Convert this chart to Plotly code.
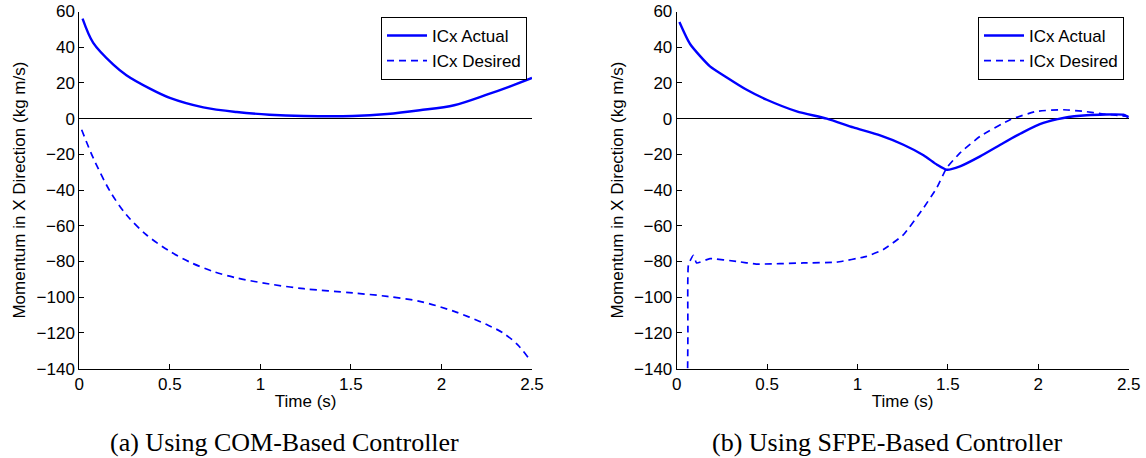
import plotly.graph_objects as go

# ---- Data ----
# (a) COM-Based Controller
t_a_actual = [0.018, 0.077, 0.188, 0.26, 0.39, 0.5, 0.685, 0.87, 1.05, 1.24, 1.51, 1.70, 1.88, 2.07, 2.25, 2.38, 2.5]
v_a_actual = [56.0, 42.4, 30.2, 24.3, 16.8, 11.6, 6.3, 3.7, 2.2, 1.5, 1.5, 2.6, 4.7, 7.5, 13.4, 18.1, 22.8]

t_a_desired = [0.013, 0.077, 0.17, 0.26, 0.37, 0.5, 0.61, 0.74, 0.87, 1.05, 1.24, 1.51, 1.70, 1.88, 2.07, 2.25, 2.34, 2.42, 2.48]
v_a_desired = [-6.2, -22.0, -40.7, -53.8, -65.0, -74.3, -80.3, -85.6, -89.2, -92.6, -95.2, -97.6, -99.5, -102.3, -107.9, -115.3, -120.0, -126.5, -134.0]

# (b) SFPE-Based Controller
t_b_actual = [0.015, 0.074, 0.184, 0.277, 0.387, 0.498, 0.664, 0.83, 0.977, 1.125, 1.254, 1.365, 1.44, 1.493, 1.567, 1.678, 1.807, 1.917, 2.028, 2.139, 2.267, 2.47, 2.5]
v_b_actual = [54.1, 41.8, 29.3, 23.1, 16.2, 10.6, 4.1, 0.0, -4.9, -9.4, -14.6, -20.5, -25.8, -28.6, -26.7, -21.1, -13.6, -7.5, -2.4, 0.4, 1.9, 2.2, 0.7]

t_b_desired = [0.059, 0.062, 0.065, 0.092, 0.11, 0.184, 0.33, 0.44, 0.70, 0.885, 1.05, 1.143, 1.254, 1.365, 1.438, 1.493, 1.567, 1.678, 1.844, 1.99, 2.139, 2.25, 2.36, 2.5]
v_b_desired = [-160.0, -120.0, -81.7, -76.5, -80.8, -78.4, -79.9, -81.4, -80.8, -80.3, -77.1, -73.3, -65.0, -50.0, -38.8, -27.6, -19.2, -9.9, -0.6, 4.1, 5.0, 4.1, 2.6, 1.3]

x_ticks = [0, 0.5, 1, 1.5, 2, 2.5]
x_tick_text = ["0", "0.5", "1", "1.5", "2", "2.5"]
y_ticks = [-140, -120, -100, -80, -60, -40, -20, 0, 20, 40, 60]

series_names = ["ICx Actual", "ICx Desired"]
captions = ["(a) Using COM-Based Controller", "(b) Using SFPE-Based Controller"]
x_title = "Time (s)"
y_title = "Momentum in X Direction (kg m/s)"

BLUE = "#0000FF"
SANS = "Liberation Sans, Arial, sans-serif"
SERIF = "Liberation Serif, Times New Roman, serif"

fig = go.Figure()

fig.add_trace(go.Scatter(x=t_a_actual, y=v_a_actual, mode="lines", name=series_names[0],
                         line=dict(color=BLUE, width=2.4, shape="spline", smoothing=0.9),
                         xaxis="x", yaxis="y", legend="legend"))
fig.add_trace(go.Scatter(x=t_a_desired, y=v_a_desired, mode="lines", name=series_names[1],
                         line=dict(color=BLUE, width=1.7, dash="7px,5px", shape="spline", smoothing=0.9),
                         xaxis="x", yaxis="y", legend="legend"))
fig.add_trace(go.Scatter(x=t_b_actual, y=v_b_actual, mode="lines", name=series_names[0],
                         line=dict(color=BLUE, width=2.4, shape="spline", smoothing=0.6),
                         xaxis="x2", yaxis="y2", legend="legend2"))
fig.add_trace(go.Scatter(x=t_b_desired, y=v_b_desired, mode="lines", name=series_names[1],
                         line=dict(color=BLUE, width=1.7, dash="7px,5px", shape="spline", smoothing=0.4),
                         xaxis="x2", yaxis="y2", legend="legend2"))

W, H = 1146, 458
xdom1 = [79.3 / W, 532.0 / W]
xdom2 = [676.7 / W, 1128.7 / W]
ydom = [1 - 368.7 / H, 1 - 11.5 / H]

common_x = dict(range=[0, 2.5], tickvals=x_ticks, ticktext=x_tick_text, ticks="inside", ticklen=5,
                tickcolor="black", showline=True, linecolor="black", linewidth=1, mirror=False,
                showgrid=False, zeroline=False, tickfont=dict(family=SANS, size=17, color="black"),
                title=dict(text=x_title, font=dict(family=SANS, size=17, color="black"), standoff=2),
                automargin=False, fixedrange=True)
common_y = dict(range=[-140, 60], tickvals=y_ticks, ticks="inside", ticklen=5,
                tickcolor="black", showline=True, linecolor="black", linewidth=1, mirror=False,
                showgrid=False, zeroline=True, zerolinecolor="black", zerolinewidth=1,
                tickfont=dict(family=SANS, size=17, color="black"),
                title=dict(text=y_title, font=dict(family=SANS, size=17, color="black"), standoff=6),
                automargin=False, fixedrange=True)

legend_common = dict(bgcolor="white", bordercolor="black", borderwidth=1,
                     font=dict(family=SANS, size=17, color="black"),
                     xanchor="right", yanchor="top", tracegroupgap=0, itemwidth=40)

fig.update_layout(
    width=W, height=H,
    margin=dict(l=0, r=0, t=0, b=0),
    paper_bgcolor="white", plot_bgcolor="white",
    xaxis=dict(domain=xdom1, anchor="y", **common_x),
    yaxis=dict(domain=ydom, anchor="x", **common_y),
    xaxis2=dict(domain=xdom2, anchor="y2", **common_x),
    yaxis2=dict(domain=ydom, anchor="x2", **common_y),
    legend=dict(x=527 / W, y=1 - 17 / H, **legend_common),
    legend2=dict(x=1124 / W, y=1 - 17 / H, **legend_common),
    annotations=[
        dict(text=captions[0], x=284 / W, y=1 - 442 / H, xref="paper", yref="paper",
             xanchor="center", yanchor="middle", showarrow=False,
             font=dict(family=SERIF, size=26, color="black")),
        dict(text=captions[1], x=887 / W, y=1 - 442 / H, xref="paper", yref="paper",
             xanchor="center", yanchor="middle", showarrow=False,
             font=dict(family=SERIF, size=26, color="black")),
    ],
)

fig.write_html(
    "out.html",
    config={"displayModeBar": False},
    post_script="document.body.style.margin='0';document.body.style.overflow='hidden';",
)
